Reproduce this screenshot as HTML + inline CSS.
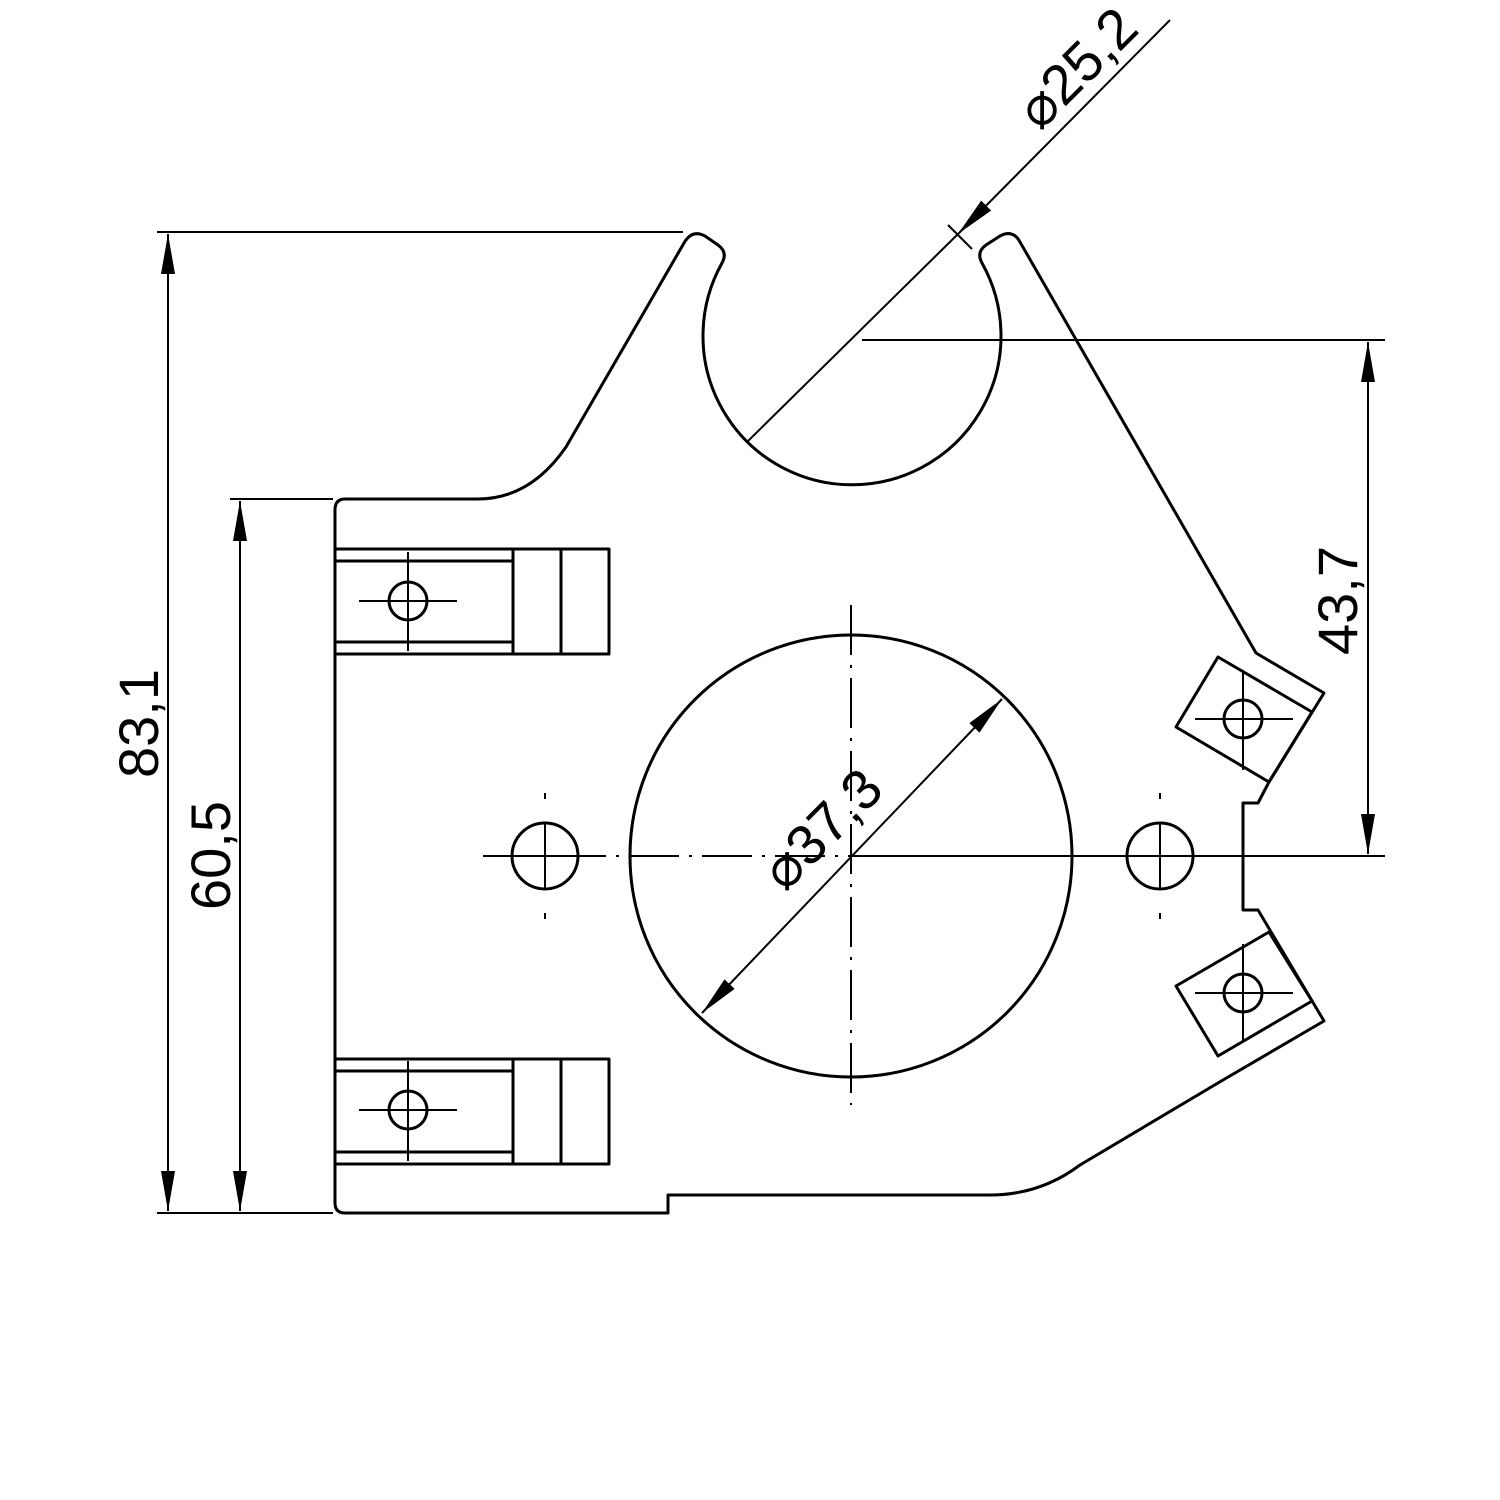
<!DOCTYPE html>
<html><head><style>body{margin:0;background:#fff}svg{display:block}</style></head><body>
<svg width="1500" height="1500" viewBox="0 0 1500 1500" xmlns="http://www.w3.org/2000/svg">
<defs><marker id="b" viewBox="0 0 40 14" refX="40" refY="7" markerWidth="40" markerHeight="14" markerUnits="userSpaceOnUse" orient="auto-start-reverse"><path d="M0,0L40,7L0,14z" fill="#000"/></marker></defs>
<g fill="none" stroke="#000" stroke-width="3" stroke-linejoin="round">
<path d="M345,499 L478,499 Q530,499 566,447 L684,243 Q692,229 705,236 L718,245 Q728,252 722,263 A149,149 0 1 0 982,263 Q976,252 986,245 L1000,236 Q1013,229 1020,242 L1256,653 L1324,693 L1269,782 L1258,803 L1243,803 L1243,910 L1258,910 L1324,1021 L1223,1080 L1080,1165 Q1040,1195 990,1195 L668,1195 L668,1213 L345,1213 Q335,1213 335,1203 L335,510 Q335,499 345,499 Z"/>
<rect x="335" y="549" width="274" height="105"/><line x1="335" y1="561" x2="513" y2="561"/><line x1="335" y1="642" x2="513" y2="642"/><line x1="513" y1="549" x2="513" y2="654"/><line x1="561" y1="549" x2="561" y2="654"/>
<rect x="335" y="1059" width="274" height="105"/><line x1="335" y1="1071" x2="513" y2="1071"/><line x1="335" y1="1152" x2="513" y2="1152"/><line x1="513" y1="1059" x2="513" y2="1164"/><line x1="561" y1="1059" x2="561" y2="1164"/>
<circle cx="408" cy="601" r="19"/><circle cx="408" cy="1110" r="19"/>
<path d="M1218,657 L1312,712 L1269,782 L1176,727 Z"/><path d="M1176,986 L1269,932 L1312,1001 L1218,1056 Z"/>
<circle cx="1243" cy="719" r="19"/><circle cx="1243" cy="993" r="19"/>
<circle cx="851" cy="856" r="221"/><circle cx="545" cy="856" r="33"/><circle cx="1160" cy="856" r="33"/>
</g>
<g stroke="#000" stroke-width="2" fill="none">
<line x1="359" y1="601" x2="457" y2="601"/><line x1="408" y1="552" x2="408" y2="651"/>
<line x1="359" y1="1110" x2="457" y2="1110"/><line x1="408" y1="1061" x2="408" y2="1161"/>
<line x1="1195" y1="719" x2="1293" y2="719"/><line x1="1243" y1="670" x2="1243" y2="770"/>
<line x1="1195" y1="993" x2="1293" y2="993"/><line x1="1243" y1="944" x2="1243" y2="1042"/>
<line x1="512" y1="856" x2="578" y2="856"/><line x1="545" y1="823" x2="545" y2="889"/>
<line x1="1127" y1="856" x2="1193" y2="856"/><line x1="1160" y1="823" x2="1160" y2="889"/>
<line x1="483" y1="856" x2="851" y2="856" stroke-dasharray="50,10,3,10"/>
<line x1="851" y1="605" x2="851" y2="1105" stroke-dasharray="50,10,3,10"/>
<line x1="851" y1="856" x2="1385" y2="856"/>
<line x1="545" y1="793" x2="545" y2="799"/><line x1="545" y1="913" x2="545" y2="919"/>
<line x1="1160" y1="793" x2="1160" y2="799"/><line x1="1160" y1="913" x2="1160" y2="919"/>
<line x1="157" y1="232" x2="683" y2="232"/><line x1="157" y1="1213" x2="333" y2="1213"/><line x1="230" y1="499" x2="333" y2="499"/>
<line x1="168" y1="234" x2="168" y2="1211" marker-start="url(#b)" marker-end="url(#b)"/>
<line x1="240" y1="501" x2="240" y2="1211" marker-start="url(#b)" marker-end="url(#b)"/>
<line x1="862" y1="340" x2="1385" y2="340"/>
<line x1="1368" y1="342" x2="1368" y2="854" marker-start="url(#b)" marker-end="url(#b)"/>
<line x1="1170" y1="20" x2="958" y2="234" marker-end="url(#b)"/>
<line x1="958" y1="234" x2="747" y2="442"/>
<line x1="948" y1="225" x2="972" y2="249"/>
<line x1="702" y1="1013" x2="1002" y2="699" marker-start="url(#b)" marker-end="url(#b)"/>
</g>
<g font-family="Liberation Sans, DejaVu Sans, sans-serif" font-size="56" fill="#000">
<text transform="translate(158,778) rotate(-90)">83,1</text>
<text transform="translate(230,910) rotate(-90)">60,5</text>
<text transform="translate(1357,655) rotate(-90)">43,7</text>
<text transform="translate(1040,132) rotate(-45)"><tspan font-family="DejaVu Sans">⌀</tspan>25,2</text>
<text transform="translate(785,893) rotate(-45)"><tspan font-family="DejaVu Sans">⌀</tspan>37,3</text>
</g>
</svg>
</body></html>
